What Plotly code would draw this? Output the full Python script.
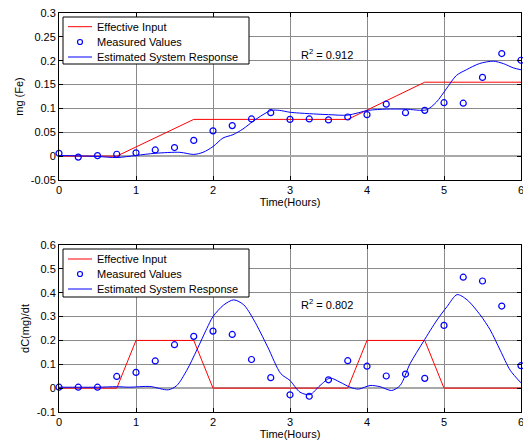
import plotly.graph_objects as go

# ---- data ----
t_meas = [0, 0.25, 0.5, 0.75, 1.0, 1.25, 1.5, 1.75, 2.0, 2.25, 2.5, 2.75, 3.0,
          3.25, 3.5, 3.75, 4.0, 4.25, 4.5, 4.75, 5.0, 5.25, 5.5, 5.75, 6.0]
mg_meas = [0.006, -0.002, 0.001, 0.004, 0.007, 0.013, 0.018, 0.033, 0.053, 0.064,
           0.078, 0.091, 0.077, 0.078, 0.076, 0.082, 0.087, 0.109, 0.091, 0.096,
           0.112, 0.111, 0.165, 0.215, 0.201]
dc_meas = [0.004, 0.004, 0.004, 0.049, 0.066, 0.114, 0.182, 0.217, 0.239, 0.225,
           0.12, 0.044, -0.028, -0.034, 0.035, 0.115, 0.092, 0.051, 0.059, 0.041,
           0.263, 0.465, 0.449, 0.344, 0.094]

t_in_top = [0, 0.75, 1.75, 3.75, 4.75, 6]
mg_in = [0, 0, 0.077, 0.077, 0.155, 0.155]

t_in_bot = [0, 0.75, 1, 1.75, 2, 3.75, 4, 4.75, 5, 6]
dc_in = [0, 0, 0.2, 0.2, 0, 0, 0.2, 0.2, 0, 0]

t_est_top = [0, 0.25, 0.5, 0.75, 1.0, 1.25, 1.57, 1.75, 1.87, 2.0, 2.13, 2.26, 2.39,
             2.52, 2.65, 2.76, 2.86, 3.0, 3.25, 3.5, 3.75, 4.02, 4.25, 4.5, 4.77,
             4.9, 5.03, 5.16, 5.29, 5.46, 5.64, 5.77, 5.9, 6.0]
mg_est = [0.0015, 0.0005, -0.0006, -0.003, 0.0015, 0.006, 0.008, 0.0036, 0.008,
          0.020, 0.038, 0.045, 0.057, 0.073, 0.087, 0.096, 0.096, 0.092, 0.089,
          0.087, 0.086, 0.096, 0.0985, 0.0985, 0.097, 0.113, 0.141, 0.169, 0.181,
          0.194, 0.199, 0.194, 0.185, 0.181]

t_est_bot = [0, 0.5, 0.75, 0.92, 1.18, 1.42, 1.53, 1.66, 1.79, 1.92, 2.0, 2.14, 2.27,
             2.4, 2.53, 2.71, 2.88, 3.0, 3.13, 3.26, 3.39, 3.52, 3.65, 3.78, 3.89,
             4.04, 4.17, 4.32, 4.43, 4.56, 4.73, 4.91, 5.04, 5.17, 5.3, 5.47, 5.6,
             5.73, 5.86, 6.0]
dc_est = [0.004, 0.004, 0.006, 0.004, 0.007, -0.007, 0.011, 0.075, 0.16, 0.25, 0.30,
          0.349, 0.37, 0.349, 0.286, 0.173, 0.061, 0.032, -0.017, -0.027, 0.011,
          0.042, 0.025, 0.004, -0.004, 0.011, 0.006, -0.01, 0.011, 0.103, 0.194,
          0.286, 0.342, 0.392, 0.37, 0.307, 0.244, 0.159, 0.075, 0.022]

x_ticks = [0, 1, 2, 3, 4, 5, 6]
x_ticklabels = ["0", "1", "2", "3", "4", "5", "6"]
y1_ticks = [-0.05, 0, 0.05, 0.1, 0.15, 0.2, 0.25, 0.3]
y1_ticklabels = ["-0.05", "0", "0.05", "0.1", "0.15", "0.2", "0.25", "0.3"]
y2_ticks = [-0.1, 0, 0.1, 0.2, 0.3, 0.4, 0.5, 0.6]
y2_ticklabels = ["-0.1", "0", "0.1", "0.2", "0.3", "0.4", "0.5", "0.6"]

series_names = ["Effective Input", "Measured Values", "Estimated System Response"]
r2_top = "R<sup>2</sup> = 0.912"
r2_bot = "R<sup>2</sup> = 0.802"

# ---- figure ----
FONT = "Liberation Sans, Arial, sans-serif"
RED = "#ff0000"
BLUE = "#0000ff"

W, H = 523, 441
ml, mr, mt, mb = 59, 2, 13, 29
pw = W - ml - mr
ph = H - mt - mb


def px_x(p):  # p: window pixel
    return (p - ml) / pw


def px_y(p):
    return (H - mb - p) / ph


def dom(top_px, bot_px):
    return [px_y(bot_px), px_y(top_px)]


fig = go.Figure()


def add_set(t_in, y_in, t_m, y_m, t_e, y_e, xa, ya):
    fig.add_trace(go.Scatter(x=t_in, y=y_in, mode="lines", name=series_names[0],
                             line=dict(color=RED, width=1), xaxis=xa, yaxis=ya,
                             showlegend=False))
    fig.add_trace(go.Scatter(x=t_m, y=y_m, mode="markers", name=series_names[1],
                             marker=dict(symbol="circle-open", size=6, color=BLUE,
                                         line=dict(width=1.2, color=BLUE)),
                             xaxis=xa, yaxis=ya, showlegend=False, cliponaxis=False))
    fig.add_trace(go.Scatter(x=t_e, y=y_e, mode="lines", name=series_names[2],
                             line=dict(color=BLUE, width=1, shape="spline", smoothing=0.8),
                             xaxis=xa, yaxis=ya, showlegend=False))


add_set(t_in_top, mg_in, t_meas, mg_meas, t_est_top, mg_est, "x", "y")
add_set(t_in_bot, dc_in, t_meas, dc_meas, t_est_bot, dc_est, "x2", "y2")

axis_common = dict(showline=True, linecolor="black", linewidth=1, mirror="ticks",
                   ticks="inside", ticklen=4, tickcolor="black", automargin=False,
                   ticklabeloverflow="allow",
                   showgrid=True, gridcolor="#8a8a8a", gridwidth=1,
                   tickfont=dict(family=FONT, size=11, color="black"))

shapes = []
annotations = []


def add_legend(box_top, box_bot, row_ys):
    x0, x1 = 63, 249
    shapes.append(dict(type="rect", xref="paper", yref="paper",
                       x0=px_x(x0), x1=px_x(x1), y0=px_y(box_bot), y1=px_y(box_top),
                       line=dict(color="black", width=1), fillcolor="white", layer="above"))
    shapes.append(dict(type="line", xref="paper", yref="paper",
                       x0=px_x(68), x1=px_x(92), y0=px_y(row_ys[0]), y1=px_y(row_ys[0]),
                       line=dict(color=RED, width=1), layer="above"))
    shapes.append(dict(type="circle", xref="paper", yref="paper",
                       x0=px_x(77.5), x1=px_x(82.5), y0=px_y(row_ys[1] + 2.5),
                       y1=px_y(row_ys[1] - 2.5),
                       line=dict(color=BLUE, width=1.2), layer="above"))
    shapes.append(dict(type="line", xref="paper", yref="paper",
                       x0=px_x(68), x1=px_x(92), y0=px_y(row_ys[2]), y1=px_y(row_ys[2]),
                       line=dict(color=BLUE, width=1), layer="above"))
    for name, yy in zip(series_names, row_ys):
        annotations.append(dict(x=px_x(95), y=px_y(yy), xref="paper", yref="paper",
                                text=name, showarrow=False, xanchor="left",
                                yanchor="middle",
                                font=dict(family=FONT, size=11, color="black")))


add_legend(17, 64, [26.7, 42.0, 57.0])
add_legend(249, 297, [259.0, 274.0, 289.0])

annotations += [
    dict(x=3.12, y=0.215, xref="x", yref="y", text=r2_top, showarrow=False,
         xanchor="left", yanchor="middle", font=dict(family=FONT, size=11)),
    dict(x=3.12, y=0.354, xref="x2", yref="y2", text=r2_bot, showarrow=False,
         xanchor="left", yanchor="middle", font=dict(family=FONT, size=11)),
]

fig.update_layout(
    width=W, height=H,
    margin=dict(l=ml, r=mr, t=mt, b=mb, autoexpand=False),
    paper_bgcolor="white", plot_bgcolor="white",
    font=dict(family=FONT, size=11, color="black"),
    showlegend=False,
    hovermode=False,
    xaxis=dict(axis_common, range=[0, 6], tickvals=x_ticks, ticktext=x_ticklabels,
               domain=[0, 1], anchor="y", zeroline=False,
               title=dict(text="Time(Hours)", standoff=1, font=dict(size=11))),
    yaxis=dict(axis_common, range=[-0.05, 0.3], tickvals=y1_ticks,
               ticktext=y1_ticklabels, domain=dom(13, 180), anchor="x",
               zeroline=True, zerolinecolor="#a8a8a8", zerolinewidth=2,
               title=dict(text="mg (Fe)", standoff=4, font=dict(size=11))),
    xaxis2=dict(axis_common, range=[0, 6], tickvals=x_ticks, ticktext=x_ticklabels,
                domain=[0, 1], anchor="y2", zeroline=False,
                title=dict(text="Time(Hours)", standoff=1, font=dict(size=11))),
    yaxis2=dict(axis_common, range=[-0.1, 0.6], tickvals=y2_ticks,
                ticktext=y2_ticklabels, domain=dom(245, 412), anchor="x2",
                zeroline=True, zerolinecolor="#a8a8a8", zerolinewidth=2,
                title=dict(text="dC(mg)/dt", standoff=4, font=dict(size=11))),
    shapes=shapes,
    annotations=annotations,
)

fig.write_html("out.html",
               config={"displayModeBar": False, "staticPlot": True},
               post_script="document.body.style.margin='0';"
                           "document.documentElement.style.overflow='hidden';"
                           "document.body.style.overflow='hidden';")
